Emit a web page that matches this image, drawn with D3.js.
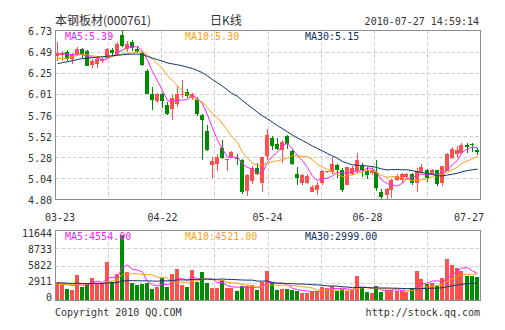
<!DOCTYPE html>
<html><head><meta charset="utf-8">
<script src="https://cdn.jsdelivr.net/npm/d3@7"></script>
<style>body{margin:0;background:#fff}svg{display:block}</style>
</head><body><svg id="c" width="505" height="330"></svg>
<script>
// ---- data ----
const opens  = [6.44,6.45,6.49,6.41,6.46,6.52,6.50,6.34,6.35,6.38,6.42,6.51,6.45,6.68,6.52,6.60,6.52,6.47,6.27,6.00,
                5.93,6.00,5.88,5.83,5.89,5.99,6.03,5.96,5.95,5.77,5.58,5.19,5.20,5.39,5.25,5.28,5.27,5.25,4.90,5.01,
                5.16,4.99,5.30,5.50,5.43,5.36,5.52,5.35,5.09,4.99,4.99,4.89,4.91,4.99,5.11,5.11,5.19,5.14,4.96,5.09,
                5.12,5.18,5.13,5.10,5.11,4.88,4.85,4.91,5.02,5.02,5.06,5.09,4.99,5.11,5.14,5.09,5.14,4.99,5.12,5.27,
                5.32,5.33,5.42,5.43,5.37];
const highs  = [6.60,6.50,6.51,6.47,6.54,6.53,6.51,6.40,6.44,6.42,6.53,6.53,6.60,6.73,6.61,6.62,6.55,6.48,6.29,6.09,
                6.02,6.02,5.91,5.99,6.10,6.16,6.06,6.02,5.97,5.78,5.65,5.28,5.32,5.48,5.26,5.35,5.32,5.26,5.09,5.18,
                5.22,5.29,5.61,5.52,5.50,5.48,5.54,5.38,5.17,5.09,5.09,4.97,5.00,5.14,5.13,5.29,5.20,5.16,5.17,5.18,
                5.33,5.22,5.17,5.17,5.25,4.92,4.93,5.03,5.09,5.10,5.10,5.10,5.16,5.21,5.15,5.15,5.14,5.18,5.33,5.40,
                5.41,5.44,5.45,5.44,5.39];
const lows   = [6.38,6.38,6.38,6.35,6.44,6.42,6.32,6.30,6.30,6.36,6.41,6.43,6.44,6.54,6.48,6.50,6.47,6.33,6.00,5.82,
                5.90,5.85,5.76,5.71,5.86,5.96,5.96,5.94,5.75,5.25,5.35,5.05,5.12,5.26,5.12,5.27,5.19,4.86,4.84,4.98,
                5.08,4.89,5.25,5.37,5.37,5.22,5.38,5.19,4.96,4.97,4.98,4.88,4.85,4.97,5.10,5.09,5.04,4.88,4.96,5.08,
                5.10,5.06,5.03,5.08,4.90,4.81,4.81,4.82,5.01,4.99,5.04,4.97,4.89,5.10,5.00,5.08,4.95,4.95,5.12,5.26,
                5.27,5.32,5.33,5.34,5.31];
const closes = [6.47,6.47,6.40,6.45,6.52,6.45,6.33,6.38,6.40,6.41,6.52,6.47,6.58,6.55,6.58,6.53,6.49,6.34,6.01,5.94,
                6.00,5.92,5.78,5.96,6.01,6.00,5.98,6.00,5.78,5.71,5.36,5.24,5.29,5.27,5.26,5.34,5.26,4.89,5.08,5.16,
                5.09,5.28,5.54,5.41,5.38,5.46,5.43,5.20,5.04,5.08,5.07,4.94,4.96,5.13,5.12,5.20,5.14,4.91,5.17,5.16,
                5.25,5.14,5.08,5.14,4.93,4.83,4.92,5.02,5.07,5.09,5.09,4.99,5.12,5.17,5.04,5.14,4.98,5.18,5.32,5.38,
                5.37,5.42,5.40,5.42,5.34];
const volumes = [3170,2730,1970,1800,4260,2350,2900,3880,3000,2900,6450,3100,4540,10820,4810,2900,2600,2730,3000,1970,
                 2300,3880,2350,4430,5250,2700,2350,5080,3170,4800,3000,2080,2080,3440,2080,2080,1700,2460,2460,2600,
                 1850,3170,4975,2900,1800,1970,1970,1800,1700,1370,1370,1530,1700,2350,2080,2515,1640,1970,1640,1800,
                 4100,2080,1530,1370,2460,1530,1800,1800,1700,1640,1530,2080,4975,3610,2800,2900,2500,3800,6900,6000,
                 5400,5000,4200,4200,3900];
// sessions before the first visible day (needed for the moving averages at the left edge)
const priorCloses  = [6.05,6.10,6.12,6.08,6.15,6.20,6.18,6.25,6.30,6.28,6.35,6.38,6.40,6.42,6.45,
                      6.50,6.55,6.58,6.52,6.53,6.45,6.38,6.30,6.32,6.35,6.42,6.48,6.45,6.48];
const priorVolumes = [3500,2800,3300,2900,4100,3200,2600,3000,3700,2900,3400,2700,3100,3600,2800,3000,3300,2900,3200,2700,
                      2300,2600,2400,2500,2500,2800,3200,2900,2930];
const priceTicks  = [4.80,5.04,5.28,5.52,5.765,6.01,6.25,6.49,6.73];
const volTicks    = [0,2911,5822,8733,11644];
const dateLabels  = ["03-23","04-22","05-24","06-28","07-27"];
const dateIndex   = [0,21,42,62,84];
const maPeriods   = [5,10,30];
const maPriceText = ["MA5:5.39","MA10:5.30","MA30:5.15"];
const maVolText   = ["MA5:4554.00","MA10:4521.00","MA30:2999.00"];
const titleText = "本钢板材(000761)", kText = "日K线", timeText = "2010-07-27 14:59:14";

// ---- layout ----
const L = 55, R = 480, PT = 30, PB = 199, VT = 230, VB = 300;
const maColors = ["#ff22ff", "#ffa010", "#0e3466"];
const UP = "#ff4f4f", DN = "#008c00", GRID = "#d2d2d2", BORDER = "#8c8c8c", TXT = "#333";
const mono = "'DejaVu Sans Mono', 'Liberation Mono', monospace";
const N = closes.length;

const svg = d3.select("#c");
const x = d3.scaleLinear().domain([0, N]).range([L, R]);
const y = d3.scaleLinear().domain([4.80, 6.73]).range([PB + 0.5, PT + 0.5]);
const yv = d3.scaleLinear().domain([0, 11644]).range([VB + 1, VT + 0.5]);
const yvLabel = d3.scaleLinear().domain([0, 11644]).range([297.5, 233]);
const gx = d3.scaleLinear().domain([0, 8]).range([L, R]);
const cx = i => Math.floor(x(i)) + 2;

function ma(arr, prior, n) {
  const all = prior.concat(arr), off = prior.length;
  return arr.map((_, i) => d3.mean(all.slice(off + i - n + 1, off + i + 1)));
}

// grids
function vgrid(top, bottom) {
  svg.append("g").selectAll("line").data(d3.range(1, 8)).join("line")
    .attr("x1", d => Math.round(gx(d)) + 0.5).attr("x2", d => Math.round(gx(d)) + 0.5)
    .attr("y1", top).attr("y2", bottom)
    .attr("stroke", GRID).attr("stroke-dasharray", "4,2");
}
svg.append("g").selectAll("line").data(priceTicks.slice(1, -1)).join("line")
  .attr("x1", L).attr("x2", R)
  .attr("y1", d => Math.round(y(d)) + 0.5).attr("y2", d => Math.round(y(d)) + 0.5)
  .attr("stroke", GRID).attr("stroke-dasharray", "4,2");
vgrid(PT, PB);
svg.append("g").selectAll("line").data(volTicks.slice(1, -1)).join("line")
  .attr("x1", L).attr("x2", R)
  .attr("y1", d => Math.round(yv(d)) + 0.5).attr("y2", d => Math.round(yv(d)) + 0.5)
  .attr("stroke", GRID).attr("stroke-dasharray", "4,2");
vgrid(VT, VB);

// candles
const cg = svg.append("g");
cg.selectAll("rect.w").data(closes).join("rect").attr("class", "w")
  .attr("x", (d, i) => cx(i)).attr("width", 1)
  .attr("y", (d, i) => Math.round(y(highs[i])))
  .attr("height", (d, i) => Math.max(1, Math.round(y(lows[i])) - Math.round(y(highs[i]))))
  .attr("fill", (d, i) => d >= opens[i] ? UP : DN);
cg.selectAll("rect.b").data(closes).join("rect").attr("class", "b")
  .attr("x", (d, i) => Math.floor(x(i))).attr("width", 4)
  .attr("y", (d, i) => Math.round(y(Math.max(d, opens[i]))))
  .attr("height", (d, i) => Math.max(1, Math.round(y(Math.min(d, opens[i]))) - Math.round(y(Math.max(d, opens[i])))))
  .attr("fill", (d, i) => d >= opens[i] ? UP : DN);

// volume bars
svg.append("g").selectAll("rect").data(volumes).join("rect")
  .attr("x", (d, i) => Math.floor(x(i))).attr("width", 4)
  .attr("y", d => Math.round(yv(d))).attr("height", d => VB + 1 - Math.round(yv(d)))
  .attr("fill", (d, i) => closes[i] >= opens[i] ? UP : DN);

// moving averages
maPeriods.forEach((n, k) => {
  const pm = ma(closes, priorCloses, n);
  svg.append("path").datum(pm)
    .attr("d", d3.line().x((d, i) => cx(i) + 0.5).y(d => y(d)))
    .attr("fill", "none").attr("stroke", maColors[k]).attr("stroke-width", 1);
  const vm = ma(volumes, priorVolumes, n);
  svg.append("path").datum(vm)
    .attr("d", d3.line().x((d, i) => cx(i) + 0.5).y(d => yv(d)))
    .attr("fill", "none").attr("stroke", maColors[k]).attr("stroke-width", 1);
});

// borders
[[PT, PB], [VT, VB]].forEach(([t, b]) => {
  svg.append("rect").attr("x", L + 0.5).attr("y", t + 0.5).attr("width", R - L).attr("height", b - t)
    .attr("fill", "none").attr("stroke", BORDER);
});

// axes labels
const fmtP = d3.format(".2f");
const ay = svg.append("g").attr("transform", `translate(${L - 3},1)`)
  .call(d3.axisLeft(y).tickValues(priceTicks).tickSize(0).tickPadding(0).tickFormat(fmtP));
const av = svg.append("g").attr("transform", `translate(${L - 3},0)`)
  .call(d3.axisLeft(yvLabel).tickValues(volTicks).tickSize(0).tickPadding(0).tickFormat(d3.format("d")));
[ay, av].forEach(a => {
  a.select(".domain").remove();
  a.selectAll("text").attr("font-family", mono).attr("font-size", 10).attr("fill", TXT);
});
svg.append("g").selectAll("text").data(dateLabels).join("text")
  .attr("x", (d, i) => Math.min(R - 11, Math.max(L + 5, x(dateIndex[i]) + 2.5)))
  .attr("y", 220.5).attr("text-anchor", "middle")
  .attr("font-family", mono).attr("font-size", 10).attr("fill", TXT).text(d => d);

// legends
const legX = [65, 185, 305];
maPriceText.forEach((t, k) => svg.append("text").attr("x", legX[k]).attr("y", 40)
  .attr("font-family", mono).attr("font-size", 10).attr("fill", maColors[k]).text(t));
maVolText.forEach((t, k) => svg.append("text").attr("x", legX[k]).attr("y", 240)
  .attr("font-family", mono).attr("font-size", 10).attr("fill", maColors[k]).text(t));

// header & footer
const cjk = "'Noto Sans CJK SC', sans-serif";
svg.append("text").attr("x", 55).attr("y", 25).attr("font-family", cjk).attr("font-size", 12).attr("fill", TXT).text(titleText);
svg.append("text").attr("x", 226).attr("y", 25).attr("text-anchor", "middle").attr("font-family", cjk).attr("font-size", 12).attr("fill", TXT).text(kText);
svg.append("text").attr("x", 479).attr("y", 25).attr("text-anchor", "end").attr("font-family", mono).attr("font-size", 10).attr("fill", TXT).text(timeText);
svg.append("text").attr("x", 55).attr("y", 316).attr("font-family", mono).attr("font-size", 10).attr("fill", TXT).text("Copyright 2010 QQ.COM");
svg.append("text").attr("x", 480).attr("y", 316).attr("text-anchor", "end").attr("font-family", mono).attr("font-size", 10).attr("fill", TXT).text("http://stock.qq.com");
</script></body></html>
